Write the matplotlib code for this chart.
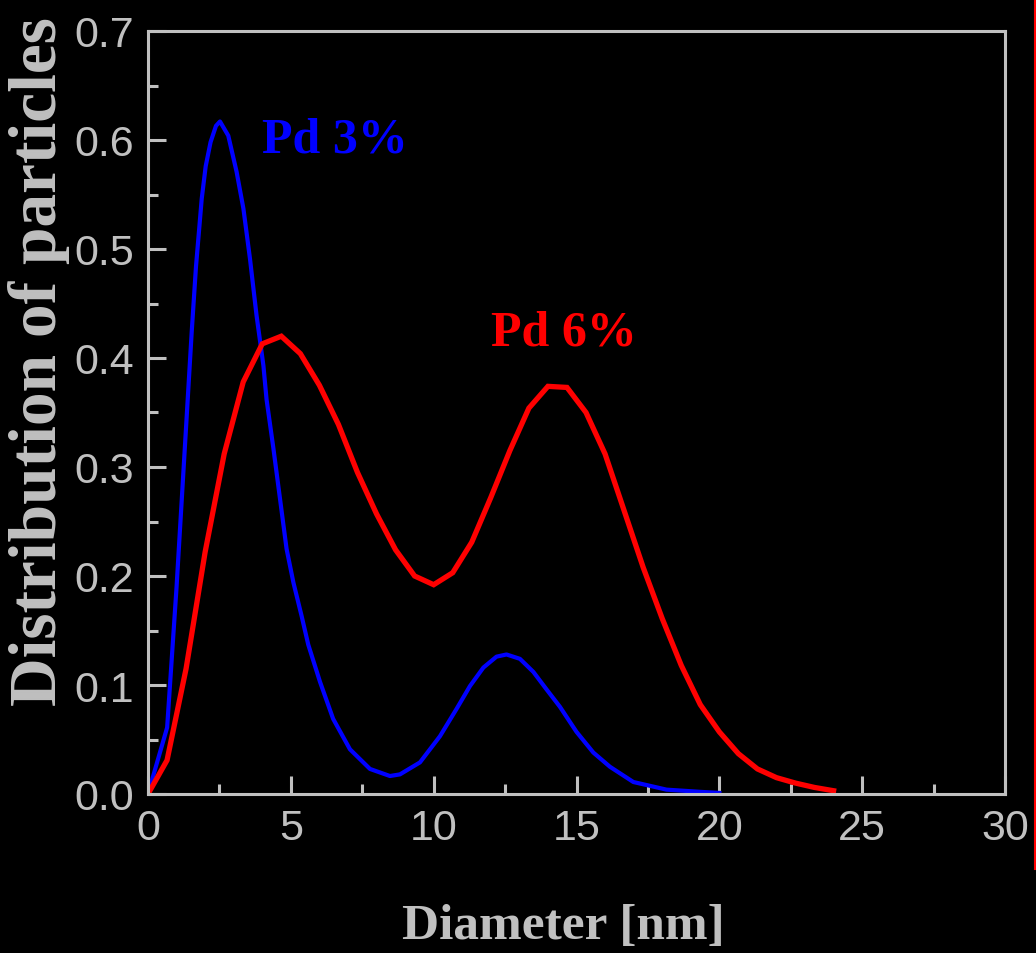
import numpy as np
import matplotlib.pyplot as plt
from matplotlib.ticker import MultipleLocator

# particle size distributions, diameter in nm
pd3_d = [0, 0.67, 1.0, 1.39, 1.53, 1.68, 1.80, 1.88, 2.02, 2.19, 2.38, 2.52,
         2.81, 3.10, 3.34, 3.57, 3.80, 4.04, 4.15, 4.39, 4.62, 4.85, 5.09,
         5.38, 5.61, 6.02, 6.48, 7.07, 7.77, 8.47, 8.82, 9.52, 10.22, 10.80,
         11.27, 11.74, 12.20, 12.55, 13.02, 13.49, 13.95, 14.42, 15.0, 15.59,
         16.17, 16.99, 18.15, 19.32, 20.0]
pd3_f = [0, 0.061, 0.19, 0.362, 0.424, 0.484, 0.521, 0.546, 0.576, 0.598,
         0.613, 0.617, 0.604, 0.571, 0.537, 0.491, 0.439, 0.393, 0.362, 0.317,
         0.271, 0.225, 0.194, 0.163, 0.137, 0.103, 0.069, 0.041, 0.023, 0.0165,
         0.018, 0.029, 0.053, 0.078, 0.099, 0.116, 0.126, 0.128, 0.124, 0.112,
         0.096, 0.080, 0.057, 0.038, 0.025, 0.011, 0.004, 0.002, 0.001]

pd6_d = [0, 0.667, 1.333, 2.0, 2.667, 3.333, 4.0, 4.667, 5.333, 6.0, 6.667,
         7.333, 8.0, 8.667, 9.333, 10.0, 10.667, 11.333, 12.0, 12.667, 13.333,
         14.0, 14.667, 15.333, 16.0, 16.667, 17.333, 18.0, 18.667, 19.333,
         20.0, 20.667, 21.333, 22.0, 22.667, 23.333, 24.0]
pd6_f = [0, 0.031, 0.115, 0.222, 0.312, 0.378, 0.413, 0.420, 0.404, 0.375,
         0.339, 0.295, 0.257, 0.224, 0.200, 0.192, 0.203, 0.231, 0.272, 0.315,
         0.354, 0.374, 0.373, 0.350, 0.312, 0.260, 0.208, 0.161, 0.118, 0.082,
         0.057, 0.037, 0.023, 0.015, 0.010, 0.006, 0.003]

grey = '#c0c0c0'
serif = ['Liberation Serif', 'DejaVu Serif']

fig = plt.figure(figsize=(10.36, 9.54), dpi=100, facecolor='black')
ax = fig.add_axes([148 / 1036, 1 - 795 / 954, 857 / 1036, 763 / 954])
ax.set_facecolor('black')

ax.plot(pd3_d, pd3_f, color='#0000ff', lw=3.0, solid_joinstyle='round')
ax.plot(pd6_d, pd6_f, color='#ff0000', lw=3.8, solid_joinstyle='miter')

ax.set_xlim(0, 30)
ax.set_ylim(0, 0.7)
ax.xaxis.set_major_locator(MultipleLocator(5))
ax.xaxis.set_minor_locator(MultipleLocator(2.5))
ax.yaxis.set_major_locator(MultipleLocator(0.1))
ax.yaxis.set_minor_locator(MultipleLocator(0.05))
ax.xaxis.set_major_formatter(lambda v, p: f'{v:.0f}')
ax.yaxis.set_major_formatter(lambda v, p: f'{v:.1f}')

for s in ax.spines.values():
    s.set_color(grey)
    s.set_linewidth(2.2)

ax.tick_params(which='both', direction='in', color=grey, width=2.2,
               labelcolor=grey, labelsize=31, top=False, right=False)
ax.tick_params(which='major', length=13)
ax.tick_params(which='minor', length=7)
ax.tick_params(axis='x', pad=10)
ax.tick_params(axis='y', pad=10)
for lbl in ax.get_xticklabels() + ax.get_yticklabels():
    lbl.set_family(['Liberation Sans', 'DejaVu Sans'])

# axis titles placed in figure coordinates
fig.text(563 / 1036, 1 - 927 / 954, 'Diameter [nm]', family=serif,
         weight='bold', color=grey, fontsize=37, ha='center', va='center')
fig.text(39 / 1036, 1 - 362 / 954, 'Distribution of particles', family=serif,
         weight='bold', color=grey, fontsize=48.5, rotation=90,
         ha='center', va='center')

ax.text(4.0, 0.6, 'Pd 3%', family=serif, weight='bold', color='#0000ff',
        fontsize=36, va='center', ha='left')
ax.text(12.0, 0.423, 'Pd 6%', family=serif, weight='bold', color='#ff0000',
        fontsize=36, va='center', ha='left')

# thin red rule on the right edge of the slide
fig.add_artist(plt.Line2D([1034.5 / 1036] * 2, [1 - 870 / 954, 1],
                          transform=fig.transFigure, color='#ff0000', lw=1.5))

fig.savefig('out.png', dpi=100, facecolor='black')
